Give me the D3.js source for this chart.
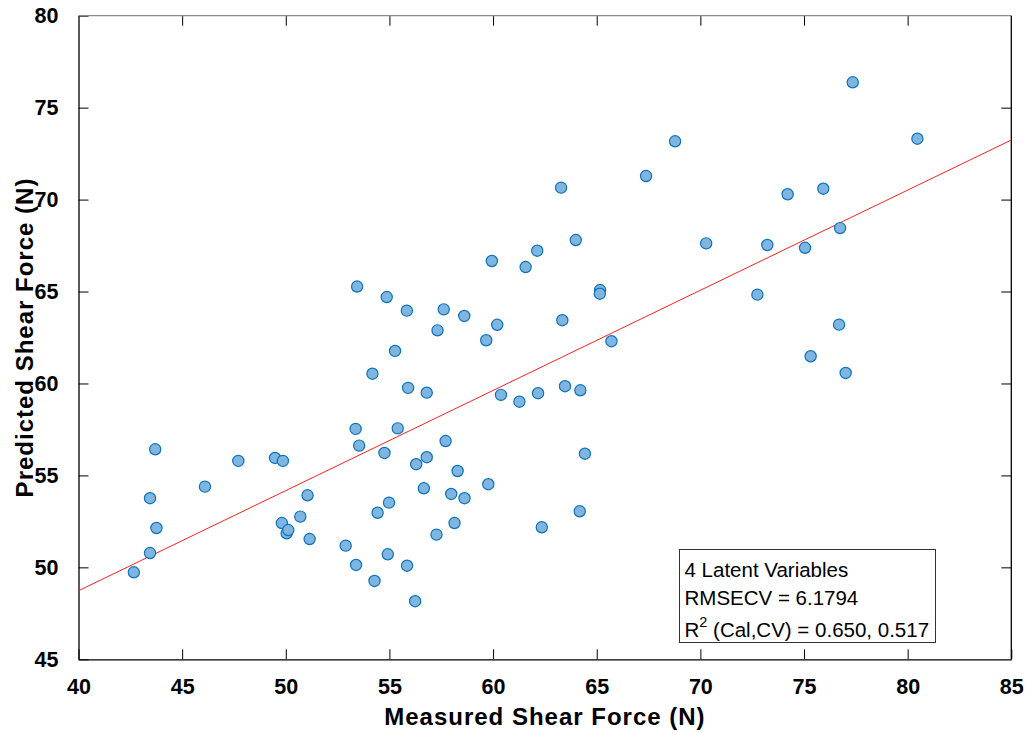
<!DOCTYPE html>
<html>
<head>
<meta charset="utf-8">
<script src="https://cdn.jsdelivr.net/npm/d3@7/dist/d3.min.js"></script>
<style>
    body { margin: 0; background: #fff; }
    svg { display: block; font-family: Arial, "Liberation Sans", sans-serif; }
</style>
</head>
<body>
<div id="chart"></div>
<script>
/*jslint browser: true*/

// measured vs predicted shear force (N)
var measured = [42.67, 43.45, 43.45, 43.76, 43.70, 46.10, 47.71, 49.48, 49.86, 49.81,
    50.04, 50.12, 50.70, 51.05, 51.15, 52.89, 53.39, 53.37, 53.54, 53.44,
    54.18, 54.28, 54.43, 54.76, 54.87, 54.98, 54.92, 55.27, 55.40, 55.84,
    55.90, 55.85, 56.24, 56.29, 56.66, 56.80, 56.80, 57.27, 57.32, 57.62,
    57.71, 57.98, 58.14, 58.29, 58.61, 58.62, 59.67, 59.77, 59.94, 60.20,
    60.38, 61.27, 61.57, 62.13, 62.17, 62.35, 63.28, 63.34, 63.47, 63.99,
    64.21, 64.18, 64.43, 65.16, 65.15, 65.71, 67.38, 68.78, 70.28, 72.75,
    73.23, 74.21, 75.05, 75.32, 75.93, 76.69, 76.74, 77.01, 77.35, 80.47];

var predicted = [49.73, 50.78, 53.76, 52.14, 56.42, 54.39, 55.79, 55.95, 55.79, 52.41,
    51.85, 52.03, 52.76, 53.92, 51.54, 51.18, 50.13, 57.53, 56.62, 65.27,
    60.53, 49.26, 52.97, 56.22, 64.70, 53.52, 50.71, 61.77, 57.56, 63.96,
    59.76, 50.09, 48.16, 55.61, 54.30, 55.99, 59.50, 51.78, 62.89, 64.03,
    56.87, 53.99, 52.41, 55.24, 63.67, 53.76, 62.35, 54.52, 66.66, 63.19,
    59.38, 59.01, 66.33, 67.22, 59.47, 52.18, 70.65, 63.44, 59.85, 67.80,
    59.63, 53.05, 56.18, 65.08, 64.88, 62.30, 71.28, 73.17, 67.62, 64.83,
    67.53, 70.29, 67.38, 61.48, 70.59, 63.20, 68.45, 60.57, 76.38, 73.31];

// fitted line: predicted = slope * measured + intercept
var fitSlope = 0.5447;
var fitIntercept = 26.94;

var xTicks = [40, 45, 50, 55, 60, 65, 70, 75, 80, 85];
var yTicks = [45, 50, 55, 60, 65, 70, 75, 80];

var xTitle = 'Measured Shear Force (N)';
var yTitle = 'Predicted Shear Force (N)';
var statsLines = ['4 Latent Variables', 'RMSECV = 6.1794', '(Cal,CV) = 0.650, 0.517'];

(function (d3) {
    'use strict';

    var width = 1027, height = 733;
    var left = 78.5, top = 15.7, right = 1011.3, bottom = 659.3;
    var tickLen = 10;

    var x = d3.scaleLinear().domain([40, 85]).range([left, right]);
    var y = d3.scaleLinear().domain([45, 80]).range([bottom, top]);

    var svg = d3.select('#chart').append('svg')
        .attr('width', width)
        .attr('height', height);

    // axes with inward ticks
    var xAxis = svg.append('g')
        .attr('transform', 'translate(0,' + bottom + ')')
        .call(d3.axisBottom(x).tickValues(xTicks).tickSizeInner(-tickLen).tickSizeOuter(0).tickPadding(19));
    var yAxis = svg.append('g')
        .attr('transform', 'translate(' + left + ',0)')
        .call(d3.axisLeft(y).tickValues(yTicks).tickSizeInner(-tickLen).tickSizeOuter(0).tickPadding(20));

    // mirrored ticks on top and right
    svg.append('g')
        .attr('transform', 'translate(0,' + top + ')')
        .call(d3.axisTop(x).tickValues(xTicks.slice(1, -1)).tickSizeInner(-tickLen).tickSizeOuter(0).tickFormat(''))
        .select('.domain').remove();
    svg.append('g')
        .attr('transform', 'translate(' + right + ',0)')
        .call(d3.axisRight(y).tickValues(yTicks.slice(1, -1)).tickSizeInner(-tickLen).tickSizeOuter(0).tickFormat(''))
        .select('.domain').remove();

    [xAxis, yAxis].forEach(function (ax) {
        ax.select('.domain').attr('stroke', '#000').attr('stroke-width', 1.3);
        ax.selectAll('.tick text')
            .attr('font-size', 21.5)
            .attr('font-weight', 'bold')
            .attr('fill', '#000')
            .attr('font-family', 'Arial, "Liberation Sans", sans-serif');
    });
    svg.selectAll('.tick line').attr('stroke', '#000').attr('stroke-width', 1);

    // box: grey top edge, black right edge
    svg.append('line')
        .attr('x1', left).attr('x2', right)
        .attr('y1', top).attr('y2', top)
        .attr('stroke', '#8c8c8c').attr('stroke-width', 1.3);
    svg.append('line')
        .attr('x1', right).attr('x2', right)
        .attr('y1', top).attr('y2', bottom)
        .attr('stroke', '#000').attr('stroke-width', 1.3);

    // regression line
    svg.append('line')
        .attr('x1', x(40)).attr('y1', y(fitSlope * 40 + fitIntercept))
        .attr('x2', x(85)).attr('y2', y(fitSlope * 85 + fitIntercept))
        .attr('stroke', '#ff2020')
        .attr('stroke-width', 1);

    // points
    var pts = measured.map(function (m, i) { return [m, predicted[i]]; });
    svg.append('g').selectAll('circle')
        .data(pts)
        .enter().append('circle')
        .attr('cx', function (d) { return x(d[0]); })
        .attr('cy', function (d) { return y(d[1]); })
        .attr('r', 5.6)
        .attr('fill', '#7fb5df')
        .attr('stroke', '#0b72bd')
        .attr('stroke-width', 1.2);

    // axis titles
    svg.append('text')
        .attr('x', (left + right) / 2)
        .attr('y', 725)
        .attr('text-anchor', 'middle')
        .attr('font-size', 24)
        .attr('font-weight', 'bold')
        .attr('letter-spacing', 1)
        .text(xTitle);
    svg.append('text')
        .attr('transform', 'translate(33,' + (top + bottom) / 2 + ') rotate(-90)')
        .attr('text-anchor', 'middle')
        .attr('font-size', 24)
        .attr('font-weight', 'bold')
        .attr('letter-spacing', 1)
        .text(yTitle);

    // stats box
    var box = svg.append('g').attr('transform', 'translate(679.5,549.5)');
    box.append('rect')
        .attr('width', 256)
        .attr('height', 93)
        .attr('fill', '#fff')
        .attr('stroke', '#333')
        .attr('stroke-width', 1);
    var lineY = [27, 55, 87];
    box.append('text').attr('x', 5).attr('y', lineY[0]).attr('font-size', 20.5).text(statsLines[0]);
    box.append('text').attr('x', 5).attr('y', lineY[1]).attr('font-size', 20.5).text(statsLines[1]);
    var r2 = box.append('text').attr('x', 5).attr('y', lineY[2]).attr('font-size', 20.5);
    r2.append('tspan').text('R');
    r2.append('tspan').attr('dy', -10).attr('font-size', 14.5).text('2');
    r2.append('tspan').attr('dy', 10).text(' ' + statsLines[2]);

}(window.d3));
</script>
</body>
</html>
